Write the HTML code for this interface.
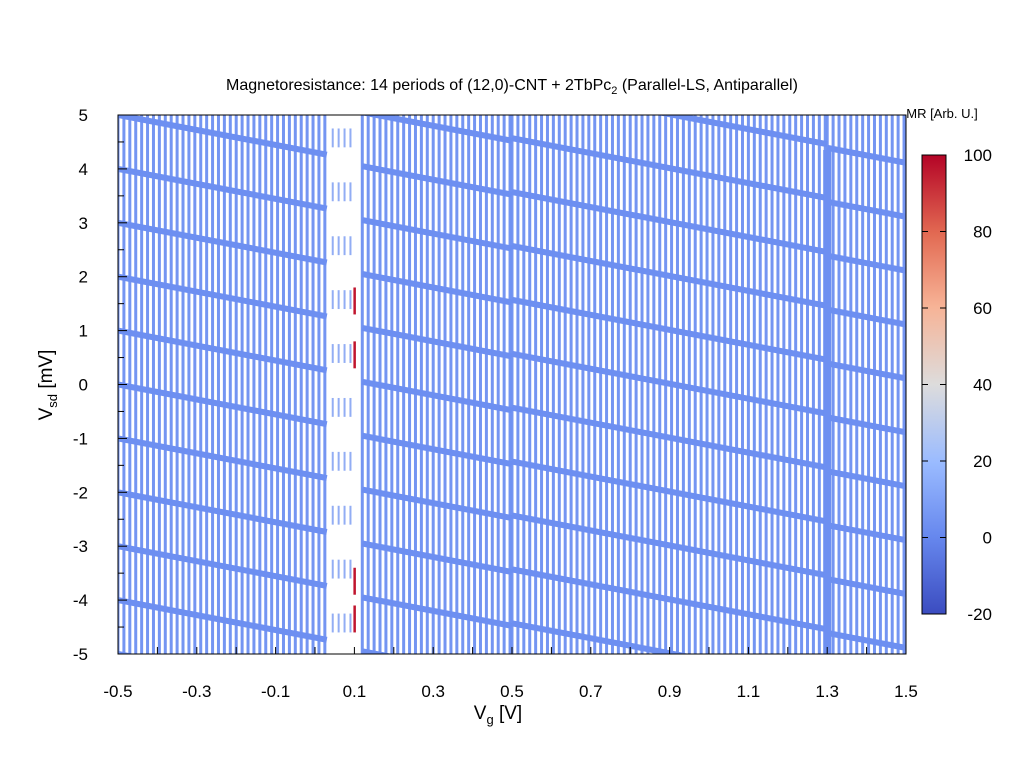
<!DOCTYPE html>
<html><head><meta charset="utf-8"><style>
html,body{margin:0;padding:0;background:#fff;overflow:hidden;width:1024px;height:768px;}
svg{position:absolute;left:0;top:0;display:block;overflow:hidden;font-family:"Liberation Sans",sans-serif;}
</style></head><body>
<svg id="c" width="1024" height="768" viewBox="0 0 1024 768">
<defs>
<linearGradient id="cw" x1="0" y1="1" x2="0" y2="0">
<stop offset="0" stop-color="#3b4cc0"/><stop offset="0.17" stop-color="#6788ee"/>
<stop offset="0.33" stop-color="#9abbff"/><stop offset="0.5" stop-color="#dddcdc"/>
<stop offset="0.67" stop-color="#f7b396"/><stop offset="0.83" stop-color="#e26952"/>
<stop offset="1" stop-color="#b40426"/></linearGradient>
<clipPath id="pc"><rect x="118" y="115" width="788" height="539"/></clipPath>
</defs>
<g id="plot" clip-path="url(#pc)"></g>
<rect x="118" y="115" width="788" height="539" fill="none" stroke="#000" stroke-width="1"/>
<g id="axes"></g>
<text x="512" y="90" text-anchor="middle" font-size="16">Magnetoresistance: 14 periods of (12,0)-CNT + 2TbPc<tspan font-size="11" dy="4">2</tspan><tspan dy="-4"> (Parallel-LS, Antiparallel)</tspan></text>
<text x="498" y="719" text-anchor="middle" font-size="19">V<tspan font-size="13" dy="5">g</tspan><tspan dy="-5">  [V]</tspan></text>
<text transform="translate(52,385) rotate(-90)" text-anchor="middle" font-size="19">V<tspan font-size="13" dy="5">sd</tspan><tspan dy="-5"> [mV]</tspan></text>
<rect x="922" y="155" width="24" height="459" fill="url(#cw)" stroke="#000" stroke-width="1"/>
<text x="942" y="118" text-anchor="middle" font-size="13">MR [Arb. U.]</text>
<g id="cb"></g>
</svg>
<script>
const segStarts=[-0.5,0.12,0.5,1.3];
const segEnds=[0.03,0.5,1.3,1.5];
const segOffsets=[0,0.05,-0.43,-0.61];
const bandSlope=1.39;
const lineStep=0.015;
const redVg=[0.1,0.1,0.1,0.1];
const redVsdLo=[1.3,0.3,-3.9,-4.6];
const redVsdHi=[1.8,0.8,-3.4,-4.1];
const xTicks=[-0.5,-0.3,-0.1,0.1,0.3,0.5,0.7,0.9,1.1,1.3,1.5];
const yTicks=[-5,-4,-3,-2,-1,0,1,2,3,4,5];
const cbTicks=[-20,0,20,40,60,80,100];
const NS='http://www.w3.org/2000/svg';
const X=v=>118+(v+0.5)/2*788, Y=v=>654-(v+5)/10*539, CB=v=>614-(v+20)/120*459;
function mk(p,t,a){const e=document.createElementNS(NS,t);for(const k in a)e.setAttribute(k,a[k]);p.appendChild(e);return e;}
const plot=document.getElementById('plot'),axes=document.getElementById('axes'),cb=document.getElementById('cb');
const blue='#6d8ff1';
for(let i=0;i<segStarts.length;i++){
  const s=segStarts[i],e=segEnds[i];
  for(let v=s;v<=e+1e-9;v+=lineStep){
    const l=mk(plot,'rect',{x:X(v)-1.5,y:115,width:3,height:539,fill:blue,opacity:0.95});
    
    
  }
  for(let n=-8;n<=8;n++){
    const a=n+segOffsets[i], b=a-bandSlope*(e-s);
    const p=mk(plot,'line',{x1:X(s),y1:Y(a),x2:X(e),y2:Y(b),stroke:blue,'stroke-width':6});
    
    
  }
}
for(let v=0.045;v<0.1;v+=lineStep){
  for(let n=-5;n<=4;n++){
    const d=mk(plot,'rect',{x:X(v)-1,y:Y(n+0.75),width:2,height:Y(n+0.4)-Y(n+0.75),fill:'#7f9ff2',opacity:0.85});
    
    
  }
}
for(let i=0;i<redVg.length;i++){
  const r=mk(plot,'rect',{x:X(redVg[i])-1,y:Y(redVsdHi[i]),width:2.5,height:Y(redVsdLo[i])-Y(redVsdHi[i]),fill:'#c0152e'});
  
  
}
const thick=mk(plot,'rect',{x:X(1.3)-4,y:150,width:8,height:504,fill:blue});


for(let v=-0.5;v<=1.5001;v+=0.1){
  const t=mk(axes,'line',{x1:X(v),x2:X(v),y1:654,y2:647,stroke:'#000'});
  
  
}
xTicks.forEach(v=>{const t=mk(axes,'text',{x:X(v),y:697,'text-anchor':'middle','font-size':17});t.textContent=v.toFixed(1);
  
  });
for(let v=-5;v<=5;v+=0.5){
  const t=mk(axes,'line',{x1:118,x2:v%1===0?127:124,y1:Y(v),y2:Y(v),stroke:'#000'});
  
  
}
yTicks.forEach(v=>{const t=mk(axes,'text',{x:88,y:Y(v)+6,'text-anchor':'end','font-size':17});t.textContent=v;
  
  });
cbTicks.forEach(v=>{
  mk(cb,'line',{x1:922,x2:928,y1:CB(v),y2:CB(v),stroke:'#000'});
  mk(cb,'line',{x1:940,x2:946,y1:CB(v),y2:CB(v),stroke:'#000'});
  const t=mk(cb,'text',{x:992,y:CB(v)+6,'text-anchor':'end','font-size':17});t.textContent=v;
  
  });
</script>
</body></html>
